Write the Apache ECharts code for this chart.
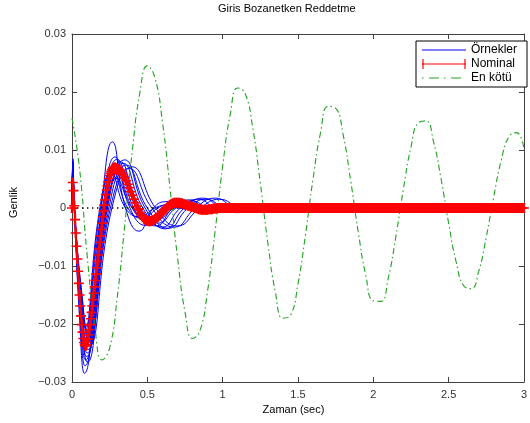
<!DOCTYPE html>
<html><head><meta charset="utf-8">
<script src="https://cdn.jsdelivr.net/npm/echarts@6/dist/echarts.min.js"></script>
<style>html,body{margin:0;padding:0;background:#fff}#c{width:530px;height:423px}</style>
</head><body><div id="c"></div>
<script>
const titleText = 'Giris Bozanetken Reddetme';
const xName = 'Zaman (sec)';
const yName = 'Genlik';
const seriesNames = ['Örnekler', 'Nominal', 'En kötü'];
const xTicks = [0, 0.5, 1, 1.5, 2, 2.5, 3];
const yTicks = [-0.03, -0.02, -0.01, 0, 0.01, 0.02, 0.03];
const yTickLabels = ['−0.03', '−0.02', '−0.01', '0', '0.01', '0.02', '0.03'];

// Örnekler (sample responses), [time, value]
const sample1 = [[0,0],[.006,.0085],[.016,0],[.049,-.0185],[.082,-.0285],[.195,0],[.268,.0114],[.355,0],[.445,-.0040],[.54,0],[.63,.0011],[.72,0],[.80,-.0003],[.88,0],[3,0]];
const sample2 = [[0,0],[.006,.0080],[.016,0],[.051,-.0177],[.086,-.0272],[.205,0],[.285,.0088],[.385,0],[.49,-.0030],[.595,0],[.69,.0012],[.78,0],[.87,-.0004],[.96,0],[3,0]];
const sample3 = [[0,0],[.006,.0078],[.016,0],[.053,-.0170],[.090,-.0262],[.213,0],[.30,.0084],[.41,0],[.52,-.0028],[.625,0],[.72,.0011],[.81,0],[.90,-.0004],[.99,0],[3,0]];
const sample4 = [[0,0],[.006,.0075],[.016,0],[.056,-.0166],[.096,-.0256],[.225,0],[.32,.0080],[.44,0],[.56,-.0031],[.67,0],[.78,.0014],[.88,0],[.98,-.0005],[1.07,0],[3,0]];
const sample5 = [[0,0],[.006,.0073],[.016,0],[.058,-.0163],[.100,-.0250],[.233,0],[.34,.0077],[.47,0],[.60,-.0033],[.72,0],[.84,.0015],[.95,0],[1.06,-.0006],[1.16,0],[3,0]];
const sample6 = [[0,0],[.006,.0071],[.016,0],[.061,-.0159],[.106,-.0244],[.245,0],[.36,.0074],[.50,0],[.64,-.0035],[.77,0],[.89,.0015],[1.01,0],[1.12,-.0006],[1.22,0],[3,0]];
const sample7 = [[0,0],[.006,.0069],[.016,0],[.052,-.0156],[.088,-.0240],[.207,0],[.29,.0073],[.40,0],[.50,-.0022],[.60,0],[.68,.0008],[.76,0],[.84,-.0002],[.92,0],[3,0]];
const sample8 = [[0,0],[.006,.0067],[.016,0],[.0545,-.0153],[.093,-.0236],[.218,0],[.31,.0071],[.43,0],[.54,-.0025],[.65,0],[.74,.0009],[.83,0],[.92,-.0003],[1.0,0],[3,0]];
const sample9 = [[0,0],[.006,.0065],[.016,0],[.048,-.0147],[.080,-.0226],[.19,0],[.27,.0064],[.37,0],[.47,-.0018],[.57,0],[.65,.0006],[.73,0],[3,0]];
const sample10 = [[0,0],[.006,.0063],[.016,0],[.057,-.0150],[.098,-.0230],[.228,0],[.33,.0066],[.455,0],[.575,-.0026],[.69,0],[.80,.0012],[.90,0],[1.0,-.0004],[1.08,0],[3,0]];
const sample11 = [[0,0],[.006,.0061],[.016,0],[.064,-.0144],[.112,-.0222],[.255,0],[.38,.0068],[.53,0],[.68,-.0033],[.82,0],[.95,.0017],[1.08,0],[1.2,-.0007],[1.32,0],[3,0]];
const sample12 = [[0,0],[.006,.0059],[.016,0],[.047,-.0140],[.078,-.0216],[.185,0],[.26,.0060],[.355,0],[.45,-.0015],[.55,0],[.63,.0005],[.71,0],[3,0]];
const sample13 = [[0,0],[.006,.0057],[.016,0],[.056,-.0137],[.096,-.0210],[.222,0],[.32,.0056],[.44,0],[.56,-.0020],[.68,0],[.78,.0009],[.88,0],[3,0]];
const sample14 = [[0,0],[.006,.0055],[.016,0],[.051,-.0133],[.086,-.0205],[.203,0],[.29,.0051],[.40,0],[.51,-.0015],[.62,0],[.71,.0006],[.80,0],[3,0]];
const sample15 = [[0,0],[.006,.0080],[.016,0],[.059,-.0173],[.102,-.0266],[.235,0],[.35,.0083],[.485,0],[.62,-.0036],[.745,0],[.87,.0017],[.99,0],[1.10,-.0008],[1.21,0],[1.31,.0003],[1.40,0],[3,0]];
const sample16 = [[0,0],[.006,.0070],[.016,0],[.066,-.0153],[.116,-.0236],[.265,0],[.40,.0071],[.555,0],[.70,-.0031],[.85,0],[.98,.0015],[1.11,0],[1.23,-.0006],[1.35,0],[3,0]];
const samples = [sample1, sample2, sample3, sample4, sample5, sample6, sample7, sample8,
                 sample9, sample10, sample11, sample12, sample13, sample14, sample15, sample16];

// Nominal: values every 0.005 s from 0 to 0.30
const nominalEarlyStart = 0, nominalEarlyStep = 0.005;
const nominalEarly = [
  0, .0044, .0030, .0004, -.0020, -.0043, -.0066, -.0088, -.0109, -.0130,
  -.0150, -.0169, -.0186, -.0201, -.0214, -.0225, -.0232, -.0236, -.0238, -.0236,
  -.0232, -.0226, -.0219, -.0210, -.0201, -.0191, -.0180, -.0169, -.0158, -.0147,
  -.0136, -.0125, -.0114, -.0103, -.0092, -.0081, -.0070, -.0059, -.0048, -.0037,
  -.0026, -.0015, -.0005, .0005, .0014, .0023, .0031, .0038, .0045, .0051,
  .0056, .0060, .0063, .0066, .0068, .0069, .0070, .0070, .0069, .0068,
  .0066
];
// Nominal: values every 0.01 s from 0.31 to 3.00
const nominalLateStart = 0.31, nominalLateStep = 0.01;
const nominalLate = [
  .0067, .0065, .0061, .0057, .0052, .0047, .0041, .0035, .0028, .0022,
  .0015, .0009, .0003, -.0002, -.0008, -.0012, -.0016, -.0019, -.0021, -.0022,
  -.0023, -.0023, -.0022, -.0021, -.0019, -.0017, -.0015, -.0013, -.0010, -.0007,
  -.0004, -.0002, .0001, .0003, .0005, .0007, .0008, .0009, .0009, .0009,
  .0009, .0008, .0008, .0007, .0006, .0005, .0004, .0004, .0002, .0002,
  .0001, 0, -.0001, -.0002, -.0002, -.0003, -.0003, -.0003, -.0003, -.0003,
  -.0002, -.0002, -.0002, -.0001, -.0001, -.0001, 0, 0,
  0,0,0,0,0,0,0,0,0,0,0,0,0,0,0,0,0,0,0,0,
  0,0,0,0,0,0,0,0,0,0,0,0,0,0,0,0,0,0,0,0,
  0,0,0,0,0,0,0,0,0,0,0,0,0,0,0,0,0,0,0,0,
  0,0,0,0,0,0,0,0,0,0,0,0,0,0,0,0,0,0,0,0,
  0,0,0,0,0,0,0,0,0,0,0,0,0,0,0,0,0,0,0,0,
  0,0,0,0,0,0,0,0,0,0,0,0,0,0,0,0,0,0,0,0,
  0,0,0,0,0,0,0,0,0,0,0,0,0,0,0,0,0,0,0,0,
  0,0,0,0,0,0,0,0,0,0,0,0,0,0,0,0,0,0,0,0,
  0,0,0,0,0,0,0,0,0,0,0,0,0,0,0,0,0,0,0,0,
  0,0,0,0,0,0,0,0,0,0,0,0,0,0,0,0,0,0,0,0,
  0,0
];

// En kötü (worst case): values every 0.05 s from 0 to 3
const worstStart = 0, worstStep = 0.05;
const worstCase = [
  .0155, .0068, -.0080, -.0200, -.0262, -.0241, -.0155, -.0030, .0098, .0198,
  .0245, .0225, .0149, .0036, -.0084, -.0179, -.0225, -.0211, -.0143, -.0040,
  .0072, .0161, .0207, .0197, .0138, .0043, -.0060, -.0145, -.0190, -.0185,
  -.0131, -.0046, .0050, .0130, .0175, .0172, .0126, .0047, -.0041, -.0116,
  -.0160, -.0161, -.0120, -.0049, .0033, .0105, .0147, .0150, .0114, .0050,
  -.0026, -.0093, -.0134, -.0139, -.0109, -.0050, .0020, .0083, .0123, .0130,
  .0103
];

// zero reference line
const zeroLine = [[0, 0], [3, 0]];

const FONT = 'Liberation Sans, Arial, Helvetica, sans-serif';
const AX = '#404040';
const BLUE = '#0000ff', RED = '#ff0000', GREEN = '#20a020';

const nominalData = nominalEarly.map((v, i) => [nominalEarlyStart + i * nominalEarlyStep, v])
  .concat(nominalLate.map((v, i) => [nominalLateStart + i * nominalLateStep, v]));
const worstData = worstCase.map((v, i) => [worstStart + i * worstStep, v]);

const plusPath = 'path://M3.8,0H6.2V10H3.8Z M0,4.2H10V5.8H0Z';

const series = [];
samples.forEach(s => series.push({
  name: seriesNames[0], type: 'line', data: s, smooth: 0.5, symbol: 'none',
  lineStyle: {color: BLUE, width: 1}, itemStyle: {color: BLUE},
  silent: true
}));
series.push({
  name: seriesNames[1], type: 'line', data: nominalData, symbol: plusPath, symbolSize: 10,
  showSymbol: true, showAllSymbol: true,
  lineStyle: {color: RED, width: 1.8}, itemStyle: {color: RED}, silent: true
});
series.push({
  name: seriesNames[2], type: 'line', data: worstData, smooth: 0.5, symbol: 'none',
  lineStyle: {color: GREEN, width: 1.1, type: [6, 3, 1.5, 3]}, itemStyle: {color: GREEN}, silent: true
});
series.push({
  name: 'zero', type: 'line', data: zeroLine, symbol: 'none',
  lineStyle: {color: '#000', width: 1.4, type: [1.4, 3.6]}, silent: true
});

const yFmt = v => {
  const i = yTicks.findIndex(t => Math.abs(t - v) < 1e-9);
  return i >= 0 ? yTickLabels[i] : '';
};

const baseX = {
  type: 'value', min: xTicks[0], max: xTicks[xTicks.length - 1], interval: 0.5,
  axisLine: {show: true, onZero: false, lineStyle: {color: AX, width: 1}},
  axisTick: {show: true, inside: true, length: 5, lineStyle: {color: AX}},
  splitLine: {show: false}
};
const baseY = {
  type: 'value', min: yTicks[0], max: yTicks[yTicks.length - 1], interval: 0.01,
  axisLine: {show: true, onZero: false, lineStyle: {color: AX, width: 1}},
  axisTick: {show: true, inside: true, length: 5, lineStyle: {color: AX}},
  splitLine: {show: false}
};

const iconBlue = 'path://M0,4.5H44V5.5H0Z';
const iconRed = 'path://M0,4.45H44V5.55H0Z M0.4,0H1.6V10H0.4Z M42.4,0H43.6V10H42.4Z';
const iconGreen = 'path://M0,4.5H1.5V5.5H0Z M7,4.5H17V5.5H7Z M22,4.5H23.5V5.5H22Z M29,4.5H39V5.5H29Z M0,0H0.01V10H0Z M43.99,0H44V10H43.99Z';

const chart = echarts.init(document.getElementById('c'), null, {renderer: 'canvas'});
chart.setOption({
  animation: false,
  backgroundColor: '#fff',
  title: {
    text: titleText, left: 218, top: 3, padding: 0,
    textStyle: {fontFamily: FONT, fontSize: 11, fontWeight: 'normal', color: '#000'}
  },
  grid: {left: 71, right: 3, top: 34, bottom: 41, containLabel: false},
  legend: {
    data: [
      {name: seriesNames[0], icon: iconBlue, itemStyle: {color: BLUE}},
      {name: seriesNames[1], icon: iconRed, itemStyle: {color: RED}},
      {name: seriesNames[2], icon: iconGreen, itemStyle: {color: GREEN}}
    ],
    orient: 'vertical', left: 416, top: 41, itemWidth: 44, itemHeight: 10, itemGap: 2,
    padding: [3, 10, 3, 6], borderColor: '#000', borderWidth: 1, backgroundColor: '#fff',
    selectedMode: false,
    textStyle: {fontFamily: FONT, fontSize: 12, color: '#000'}
  },
  xAxis: [
    Object.assign({}, baseX, {
      position: 'bottom',
      axisLabel: {color: '#333', fontFamily: FONT, fontSize: 11, margin: 7},
      name: xName, nameLocation: 'middle', nameGap: 21,
      nameTextStyle: {fontFamily: FONT, fontSize: 11, color: '#000', padding: [0, 9, 0, 0]}
    }),
    Object.assign({}, baseX, {position: 'top', axisLabel: {show: false}})
  ],
  yAxis: [
    Object.assign({}, baseY, {
      position: 'left',
      axisLabel: {color: '#333', fontFamily: FONT, fontSize: 11, margin: 6, formatter: yFmt},
      name: yName, nameLocation: 'middle', nameGap: 53, nameRotate: 90,
      nameTextStyle: {fontFamily: FONT, fontSize: 11, color: '#000', padding: [0, 0, 0, 11]}
    }),
    Object.assign({}, baseY, {position: 'right', axisLabel: {show: false}})
  ],
  series: series
});
</script>
</body></html>
